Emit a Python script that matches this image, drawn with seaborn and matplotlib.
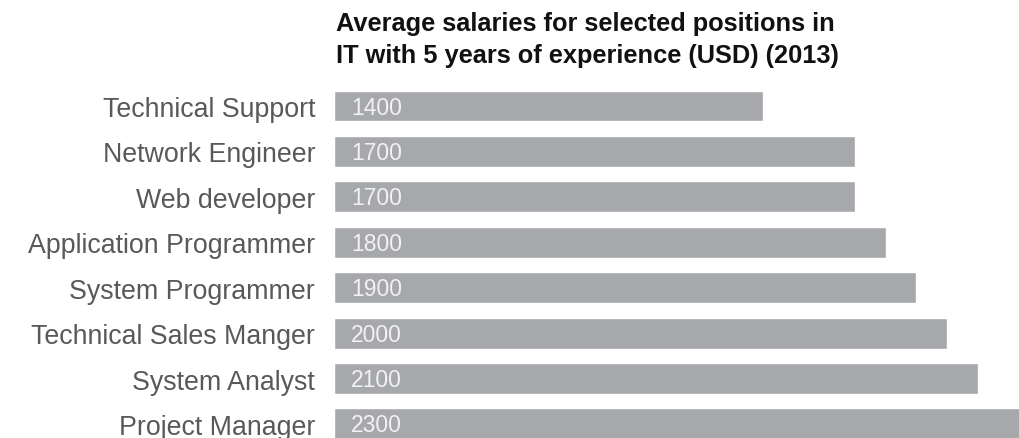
import matplotlib
matplotlib.use("Agg")
import matplotlib.pyplot as plt
import seaborn as sns
import pandas as pd

# data
positions = ["Technical Support", "Network Engineer", "Web developer",
             "Application Programmer", "System Programmer",
             "Technical Sales Manger", "System Analyst", "Project Manager"]
salaries = [1400, 1700, 1700, 1800, 1900, 2000, 2100, 2300]

title = "Average salaries for selected positions in\nIT with 5 years of experience (USD) (2013)"

sns.set_theme(style="white")
plt.rcParams["font.family"] = ["Liberation Sans", "DejaVu Sans"]

df = pd.DataFrame({"position": positions, "salary": salaries})

fig = plt.figure(figsize=(10.2, 4.39), dpi=100)
ax = fig.add_axes([334 / 1020, 0.0, 1 - 334 / 1020, 1 - 84.3 / 439])

sns.barplot(data=df, x="salary", y="position", color="#a6a8ab",
            saturation=1, width=0.68, ax=ax)

# value labels inside the bars, near the left edge
# (baseline pushed down a bit so the digits sit in the middle of the bar)
for i, v in enumerate(df["salary"]):
    ax.text(55, i + 0.165, str(v), color="#f2f2f2", fontsize=16.5,
            va="baseline", ha="left")

ax.set_xlim(0, 2238)
ax.set_ylim(7.31, -0.5)
ax.set_xlabel("")
ax.set_ylabel("")
ax.set_xticks([])
ax.tick_params(axis="y", length=0, pad=13.5, labelsize=19.3, labelcolor="#58595b")
sns.despine(ax=ax, left=True, bottom=True, top=True, right=True)

fig.text(336 / 1020, 1 - 12 / 439, title, fontsize=18.3, fontweight="bold",
         color="#111111", ha="left", va="top", linespacing=1.4)

fig.savefig("out.png", dpi=100)
plt.close()
